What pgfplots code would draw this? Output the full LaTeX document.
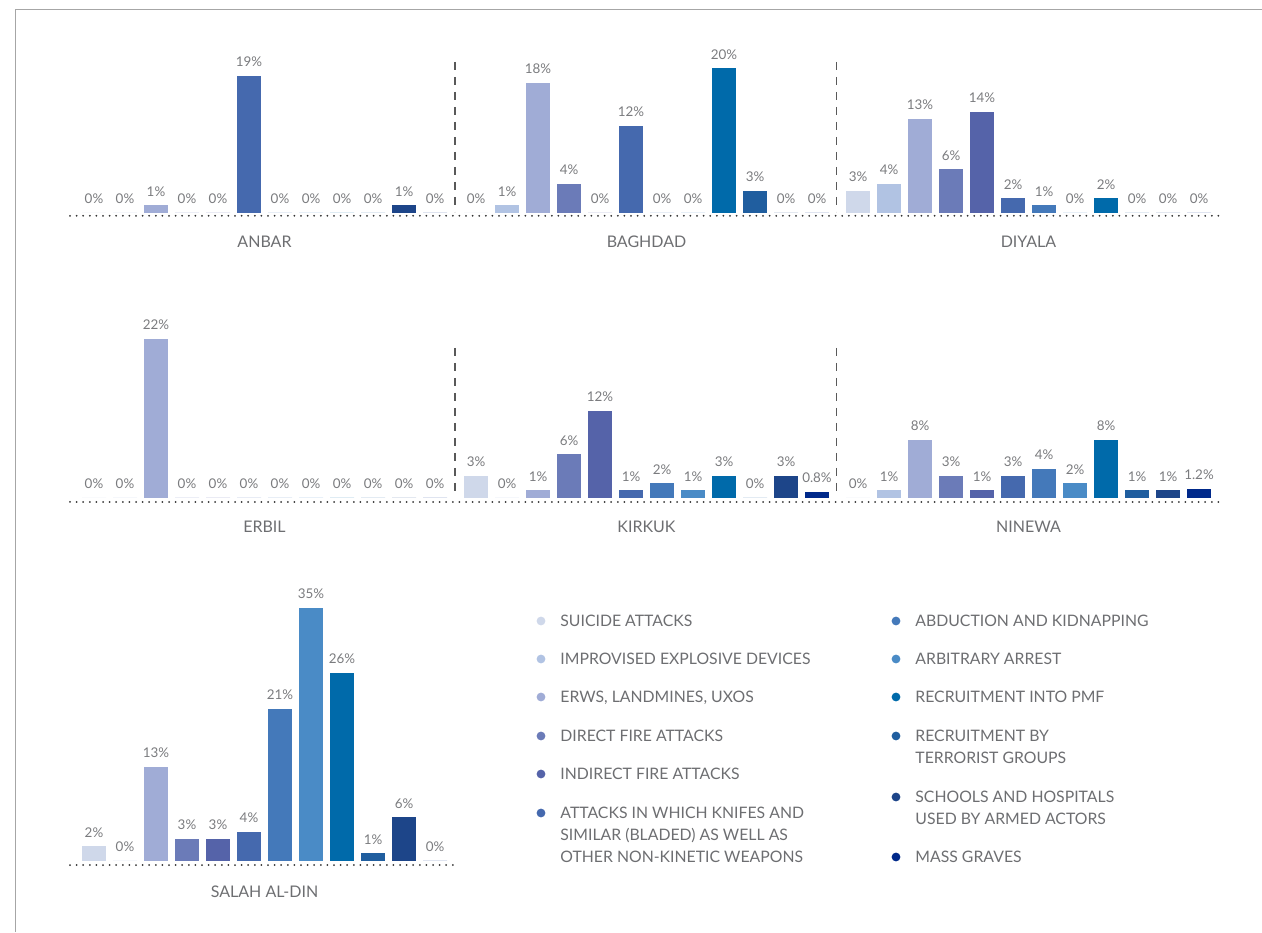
\documentclass[border=0pt]{standalone}
\usepackage{pgfplots}
\pgfplotsset{compat=1.18}
\usepackage{pgfplotstable}
\usepackage{fontspec}
\setmainfont{Lato}

\definecolor{c1}{HTML}{CFD8EA}
\definecolor{c2}{HTML}{B1C3E3}
\definecolor{c3}{HTML}{A0ACD6}
\definecolor{c4}{HTML}{6B7BB8}
\definecolor{c5}{HTML}{5563A9}
\definecolor{c6}{HTML}{4569AE}
\definecolor{c7}{HTML}{4479BA}
\definecolor{c8}{HTML}{4A8BC6}
\definecolor{c9}{HTML}{006AAA}
\definecolor{c10}{HTML}{205E9F}
\definecolor{c11}{HTML}{1D4589}
\definecolor{c12}{HTML}{00298A}
\definecolor{txt}{HTML}{6D6E71}
\definecolor{lbl}{HTML}{7A7B7E}

% share (%) of each violation type, by governorate
\pgfplotstableread{
id anbar baghdad diyala erbil kirkuk ninewa salah
1  0  0  3  0  3   0   2
2  0  1  4  0  0   1   0
3  1  18 13 22 1   8   13
4  0  4  6  0  6   3   3
5  0  0  14 0  12  1   3
6  19 12 2  0  1   3   4
7  0  0  1  0  2   4   21
8  0  0  0  0  1   2   35
9  0  20 2  0  3   8   26
10 0  3  0  0  0   1   1
11 1  0  0  0  3   1   6
12 0  0  0  0  0.8 1.2 0
}\data

\pgfplotsset{panel/.style={
    ybar, bar width=12pt,
    x=15.5pt, y=3.61pt,
    xmin=0.5, xmax=12.5, ymin=0, ymax=36,
    hide axis, clip=false, anchor=south west,
    /pgf/number format/assume math mode=true,
    nodes near coords={\pgfmathprintnumber{\pgfplotspointmeta}\%},
    every node near coord/.append style={font=\fontsize{6.7}{8}\selectfont, text=lbl, yshift=1pt},
}}

\newcommand{\panel}[2]{%
\begin{axis}[panel, at={#1}]
\pgfplotsinvokeforeach{1,...,12}{\addplot[fill=c##1, draw=none, bar shift=0pt,
  restrict x to domain=##1:##1.9] table[x=id, y=#2] {\data};}
\end{axis}}

% #1 x, #2 y of dot, #3 colour, #4 baseline of last text line, #5 text
\newcommand{\legitem}[5]{%
\fill[#3] (#1-9.5pt,#2) circle (2.2pt);
\node[anchor=base west, inner sep=0pt, align=left, text=txt,
  font=\fontsize{7.9}{11}\selectfont] at (#1,#4) {#5};}

\begin{document}
\begin{tikzpicture}
\path[use as bounding box] (0,0) rectangle (631pt,466pt);
\draw[gray!70, line width=0.5pt] (7.5pt,0) -- (7.5pt,461pt) -- (631pt,461pt);

\panel{(39.25pt,359.65pt)}{anbar}
\panel{(230.25pt,359.65pt)}{baghdad}
\panel{(421.25pt,359.65pt)}{diyala}
\panel{(39.25pt,217.15pt)}{erbil}
\panel{(230.25pt,217.15pt)}{kirkuk}
\panel{(421.25pt,217.15pt)}{ninewa}
\panel{(39.25pt,35.65pt)}{salah}

% baselines and separators
\begin{scope}[black!80, line width=1pt, line cap=round, dash pattern=on 0pt off 3.3pt]
\draw (35pt,358.1pt) -- (611.5pt,358.1pt);
\draw (35pt,215pt) -- (611.5pt,215pt);
\draw (35pt,33.5pt) -- (228.5pt,33.5pt);
\end{scope}
\begin{scope}[black!65, line width=0.8pt, dash pattern=on 3.8pt off 3.7pt]
\draw (227.5pt,435pt) -- (227.5pt,360pt);
\draw (418.25pt,435pt) -- (418.25pt,360pt);
\draw (227.5pt,292pt) -- (227.5pt,217.5pt);
\draw (418.25pt,292pt) -- (418.25pt,217.5pt);
\end{scope}

\begin{scope}[every node/.style={text=txt, font=\fontsize{8}{10}\selectfont}]
\node at (132.25pt,345pt) {ANBAR};
\node at (323.25pt,345pt) {BAGHDAD};
\node at (514.25pt,345pt) {DIYALA};
\node at (132.25pt,202.5pt) {ERBIL};
\node at (323.25pt,202.5pt) {KIRKUK};
\node at (514.25pt,202.5pt) {NINEWA};
\node at (132.25pt,20pt) {SALAH AL-DIN};
\end{scope}

\legitem{280pt}{155.5pt}{c1}{152.7pt}{SUICIDE ATTACKS}
\legitem{280pt}{136.5pt}{c2}{133.7pt}{IMPROVISED EXPLOSIVE DEVICES}
\legitem{280pt}{117.5pt}{c3}{114.7pt}{ERWS, LANDMINES, UXOS}
\legitem{280pt}{98pt}{c4}{95.2pt}{DIRECT FIRE ATTACKS}
\legitem{280pt}{79pt}{c5}{76.2pt}{INDIRECT FIRE ATTACKS}
\legitem{280pt}{59.5pt}{c6}{34.7pt}{ATTACKS IN WHICH KNIFES AND\\SIMILAR (BLADED) AS WELL AS\\OTHER NON-KINETIC WEAPONS}
\legitem{457.5pt}{155.5pt}{c7}{152.7pt}{ABDUCTION AND KIDNAPPING}
\legitem{457.5pt}{136.5pt}{c8}{133.7pt}{ARBITRARY ARREST}
\legitem{457.5pt}{117.5pt}{c9}{114.7pt}{RECRUITMENT INTO PMF}
\legitem{457.5pt}{98pt}{c10}{84.2pt}{RECRUITMENT BY\\TERRORIST GROUPS}
\legitem{457.5pt}{67.5pt}{c11}{53.7pt}{SCHOOLS AND HOSPITALS\\USED BY ARMED ACTORS}
\legitem{457.5pt}{37.5pt}{c12}{34.7pt}{MASS GRAVES}
\end{tikzpicture}
\end{document}
